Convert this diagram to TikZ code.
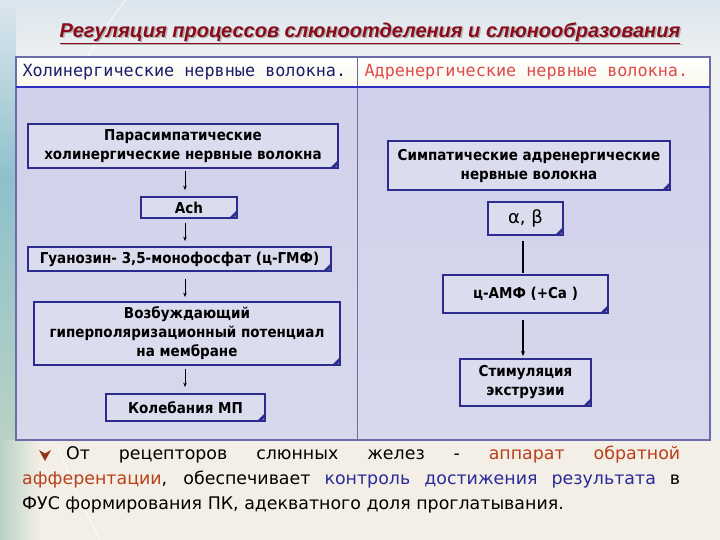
\documentclass[tikz,border=0pt]{standalone}
\usepackage{fontspec}
\setmainfont{DejaVu Sans}
\newfontfamily\boxf{DejaVu Sans Condensed}
\newfontfamily\monof{DejaVu Sans Mono}
\newfontfamily\titlef{Liberation Sans}
\usetikzlibrary{arrows.meta}
\definecolor{titlec}{HTML}{8A0C1C}
\definecolor{navyc}{HTML}{1C1C6C}
\definecolor{redh}{HTML}{E04A4A}
\definecolor{boxline}{HTML}{2C2C8E}
\definecolor{boxfill}{HTML}{DCDCEF}
\definecolor{tbodytop}{HTML}{D0D0EA}
\definecolor{tbodybot}{HTML}{D8D8EC}
\definecolor{tline}{HTML}{6C6CA8}
\definecolor{hline}{HTML}{2E2EC0}
\definecolor{affc}{HTML}{B8401A}
\definecolor{ctrlc}{HTML}{2A2A9A}
\definecolor{bgtop}{HTML}{DCE6EE}
\definecolor{bgmid}{HTML}{EEF0F0}
\definecolor{bgbot}{HTML}{F3EFE6}
\definecolor{teal1}{HTML}{8EC0CC}
\definecolor{teal2}{HTML}{B8D2C4}
\definecolor{hdrtop}{HTML}{FFFFFF}
\definecolor{hdrbot}{HTML}{F8F8EC}
\begin{document}
\begin{tikzpicture}[x=1pt,y=-1pt,
  pbox/.style={draw=boxline, line width=1.8pt, fill=boxfill, inner sep=2pt, align=center,
    font=\boxf\bfseries\fontsize{15}{19}\selectfont,
    path picture={\fill[boxline] ([yshift=8pt]path picture bounding box.south east) -- ++(-8pt,-8pt) -- ++(6.5pt,1.5pt) -- cycle;}},
  arr/.style={line width=0.8pt, -{Stealth[length=4.5pt,width=3.5pt]}},
  hdr/.style={anchor=west, font=\monof\fontsize{16.8}{20}\selectfont}]
\useasboundingbox (0,0) rectangle (720,540);
% background
\shade[top color=bgtop, bottom color=bgmid] (0,0) rectangle (720,60);
\fill[bgbot] (0,440) rectangle (720,540);
\shade[top color=bgtop, bottom color=teal1] (0,0) rectangle (16,180);
\shade[top color=teal1, bottom color=teal2] (0,180) rectangle (16,440);
\shade[left color=teal2, right color=bgbot] (0,440) rectangle (40,540);
\fill[bgmid] (710,57) rectangle (720,440);
\draw[white, line width=1pt, opacity=0.7] (125,0) .. controls (60,90) and (30,160) .. (22,260);
\draw[white, line width=1pt, opacity=0.7] (58,445) .. controls (70,480) and (85,510) .. (100,540);
% title
\node[font=\titlef\bfseries\itshape\fontsize{20}{22}\selectfont, text=gray!60] (tsh) at (371.5,34.5) {\underline{Регуляция процессов слюноотделения и слюнообразования}};
\node[font=\titlef\bfseries\itshape\fontsize{20}{22}\selectfont, text=titlec] (title) at (370,33) {\underline{Регуляция процессов слюноотделения и слюнообразования}};
% table
\shade[top color=hdrtop, bottom color=hdrbot] (16,57) rectangle (710,87);
\shade[top color=tbodytop, bottom color=tbodybot] (16,87) rectangle (710,440);
\draw[tline, line width=0.8pt] (357,57) -- (357,440);
\draw[tline, line width=1.2pt] (16,57) rectangle (710,440);
\draw[hline, line width=2pt] (16,87) -- (710,87);
\node[hdr, text=navyc] (h1) at (19,72) {Холинергические нервные волокна.};
\node[hdr, text=redh] (h2) at (361,72) {Адренергические нервные волокна.};
% left column boxes
\node[pbox, minimum width=310, minimum height=44] (n1) at (183,146) {Парасимпатические\\холинергические нервные волокна};
\node[pbox, minimum width=96, minimum height=21] (n2) at (189,207.5) {Ach};
\node[pbox, minimum width=303, minimum height=24] (n3) at (179.5,259) {Гуанозин- 3,5-монофосфат (ц-ГМФ)};
\node[pbox, minimum width=306, minimum height=63] (n4) at (187,333.5) {Возбуждающий\\гиперполяризационный потенциал\\на мембране};
\node[pbox, minimum width=159, minimum height=27] (n5) at (185.5,407.5) {Колебания МП};
% right column boxes
\node[pbox, minimum width=282, minimum height=49] (n6) at (529,165.5) {Симпатические адренергические\\нервные волокна};
\node[pbox, minimum width=75, minimum height=33, font=\fontsize{18}{20}\selectfont] (n7) at (525.5,218.5) {α, β};
\node[pbox, minimum width=165, minimum height=38] (n8) at (525.5,294) {ц-АМФ (+Ca )};
\node[pbox, minimum width=131, minimum height=47] (n9) at (525.5,382.5) {Стимуляция\\экструзии};
% connectors
\coordinate (ax) at (185,0);
\coordinate (bx) at (523,0);
\draw[arr, shorten <=2pt, shorten >=6pt] (n1.south -| ax) -- (n2.north -| ax);
\draw[arr, shorten <=4pt, shorten >=5pt] (n2.south -| ax) -- (n3.north -| ax);
\draw[arr, shorten <=7pt, shorten >=4pt] (n3.south -| ax) -- (n4.north -| ax);
\draw[arr, shorten <=3pt, shorten >=6pt] (n4.south -| ax) -- (n5.north -| ax);
\draw[line width=1.8pt, shorten <=5pt, shorten >=1pt] (n7.south -| bx) -- (n8.north -| bx);
\draw[line width=1.2pt, -{Stealth[length=5pt,width=4pt]}, shorten <=6pt, shorten >=2pt] (n8.south -| bx) -- (n9.north -| bx);
% bottom text
\fill[affc!80!black] (39,450) -- (45,453.5) -- (51,450) -- (45,461) -- cycle;
\node[anchor=north west, text width=658pt, align=justify, inner sep=0pt, font=\fontsize{17.4}{25}\selectfont] (para) at (22,446)
 {\hspace*{44pt}От рецепторов слюнных желез - {\color{affc}аппарат обратной}\linebreak
 {\color{affc}афферентации}, обеспечивает {\color{ctrlc}контроль достижения результата} в\linebreak
 ФУС формирования ПК, адекватного доля проглатывания.};
\end{tikzpicture}
\end{document}
